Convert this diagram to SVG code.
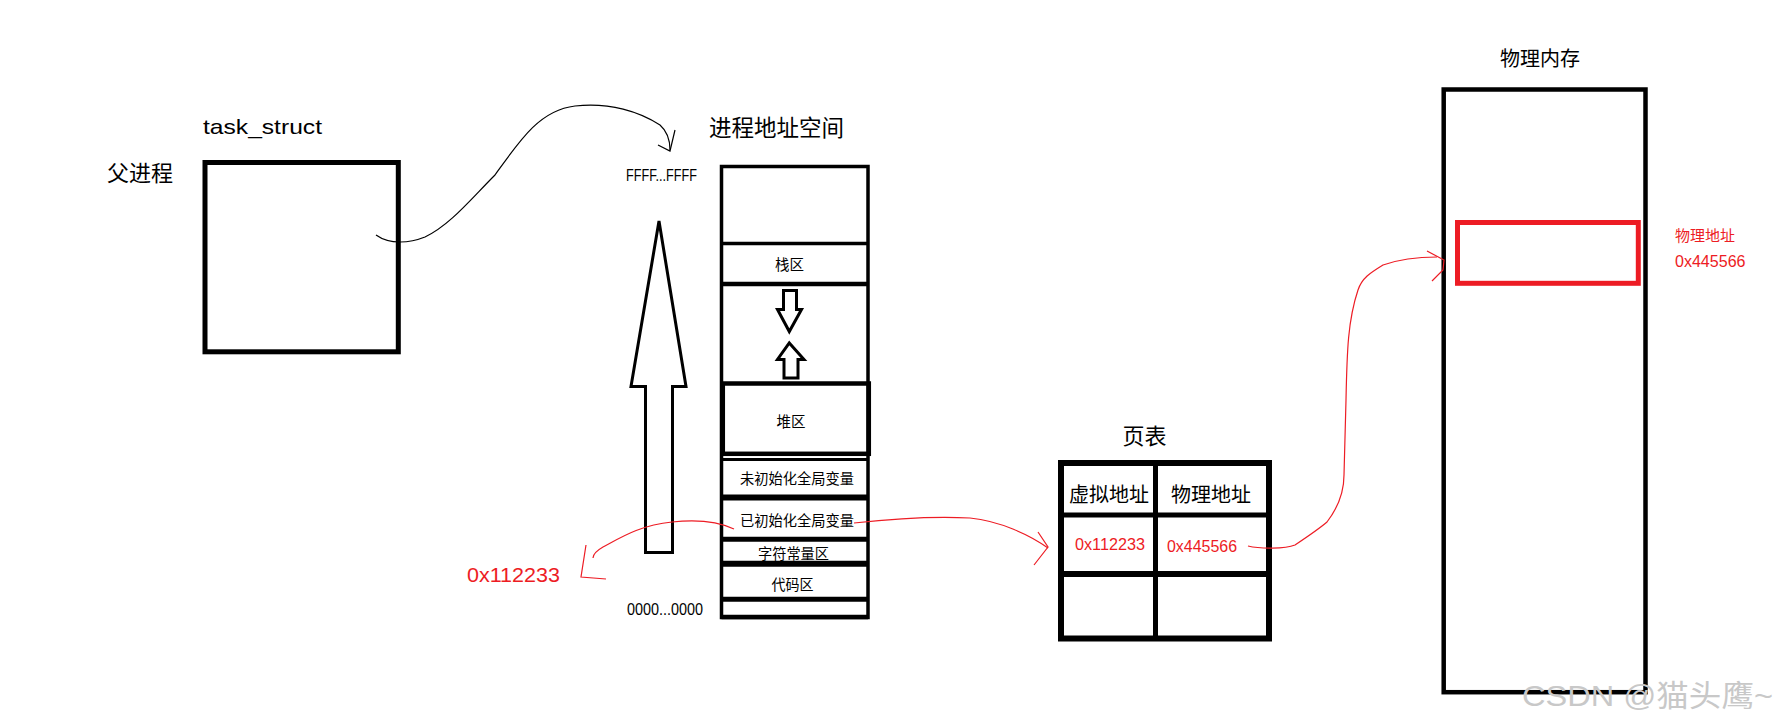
<svg xmlns="http://www.w3.org/2000/svg" width="1779" height="725" viewBox="0 0 1779 725">
<style>
text{font-family:"Liberation Sans","Noto Sans CJK SC",sans-serif;fill:#000}
.box{fill:none;stroke:#000}
.red{fill:#ED1C24}
.rl{fill:none;stroke:#ED1C24;stroke-width:1.2}
.bl{fill:none;stroke:#000;stroke-width:1.2}
.arr{fill:#fff;stroke:#000;stroke-width:3;stroke-linejoin:miter}
.seg{font-size:14.5px}
</style>
<rect width="1779" height="725" fill="#fff"/>

<g id="parent">
<text x="107" y="181" style="font-size:22px">父进程</text>
<text x="203" y="134" style="font-size:21px" textLength="119" lengthAdjust="spacingAndGlyphs">task_struct</text>
<rect class="box" x="205" y="162.5" width="193.3" height="189.3" stroke-width="5"/>
</g>

<g id="addrspace">
<text x="709" y="136" style="font-size:22.5px">进程地址空间</text>
<text x="626" y="180.5" style="font-size:16px" textLength="71" lengthAdjust="spacingAndGlyphs">FFFF...FFFF</text>
<text x="627" y="614.5" style="font-size:16px" textLength="76" lengthAdjust="spacingAndGlyphs">0000...0000</text>
<polygon class="arr" points="659,221 686,386.5 672.5,386.5 672.5,552.5 645.5,552.5 645.5,386.5 631,386.5"/>
<g id="column">
<rect class="box" x="721.5" y="166.5" width="146.5" height="451" stroke-width="3.5"/>
<line x1="721.5" y1="243.5" x2="868" y2="243.5" stroke="#000" stroke-width="3.5"/>
<line x1="721.5" y1="284" x2="868" y2="284" stroke="#000" stroke-width="4.5"/>
<rect class="box" x="722.8" y="383.5" width="146" height="70.3" stroke-width="4.5"/>
<line x1="721.5" y1="459.5" x2="868" y2="459.5" stroke="#000" stroke-width="3"/>
<line x1="721.5" y1="497.5" x2="868" y2="497.5" stroke="#000" stroke-width="6"/>
<line x1="721.5" y1="539.2" x2="868" y2="539.2" stroke="#000" stroke-width="5"/>
<line x1="721.5" y1="563.7" x2="868" y2="563.7" stroke="#000" stroke-width="6"/>
<line x1="721.5" y1="599.2" x2="868" y2="599.2" stroke="#000" stroke-width="5"/>
<line x1="721.5" y1="617" x2="868" y2="617" stroke="#000" stroke-width="4.5"/>
</g>
<text class="seg" x="775" y="270">栈区</text>
<polygon class="arr" points="783.5,290.5 796.5,290.5 796.5,309.5 801.5,309.5 789.3,331.5 777.5,309.5 783.5,309.5"/>
<polygon class="arr" points="789.3,343 804,359.5 798,359.5 798,378 784,378 784,359.5 777.5,359.5"/>
<text class="seg" x="776.5" y="427">堆区</text>
<text class="seg" x="740" y="484" textLength="114" lengthAdjust="spacingAndGlyphs">未初始化全局变量</text>
<text class="seg" x="740" y="525.5" textLength="114" lengthAdjust="spacingAndGlyphs">已初始化全局变量</text>
<text class="seg" x="758" y="559" textLength="71" lengthAdjust="spacingAndGlyphs">字符常量区</text>
<text class="seg" x="771.5" y="590" textLength="42" lengthAdjust="spacingAndGlyphs">代码区</text>
</g>

<g id="virt-label">
<text class="red" x="467" y="582" style="font-size:21px" textLength="93" lengthAdjust="spacingAndGlyphs">0x112233</text>
</g>

<g id="pagetable">
<text x="1122.5" y="444" style="font-size:22px">页表</text>
<rect class="box" x="1061" y="463" width="208" height="175.5" stroke-width="6"/>
<line x1="1155.5" y1="463" x2="1155.5" y2="638.5" stroke="#000" stroke-width="5"/>
<line x1="1061" y1="515" x2="1269" y2="515" stroke="#000" stroke-width="5"/>
<line x1="1061" y1="574" x2="1269" y2="574" stroke="#000" stroke-width="6"/>
<text x="1069" y="502" style="font-size:20px">虚拟地址</text>
<text x="1171" y="502" style="font-size:20px">物理地址</text>
<text class="red" x="1075" y="550" style="font-size:16px" textLength="70" lengthAdjust="spacingAndGlyphs">0x112233</text>
<text class="red" x="1167" y="551.5" style="font-size:16px" textLength="70" lengthAdjust="spacingAndGlyphs">0x445566</text>
</g>

<g id="physmem">
<text x="1500" y="66" style="font-size:20px">物理内存</text>
<rect class="box" x="1443.7" y="89.5" width="201.8" height="602.7" stroke-width="4.5"/>
<rect x="1457.5" y="222.5" width="180.8" height="60.8" fill="none" stroke="#ED1C24" stroke-width="5"/>
<text class="red" x="1675" y="241" style="font-size:15px">物理地址</text>
<text class="red" x="1675" y="266.5" style="font-size:16px" textLength="70.5" lengthAdjust="spacingAndGlyphs">0x445566</text>
</g>

<g id="connectors">
<path class="bl" d="M376,235 C390,245 410,243 425,237 C450,225 470,200 495,175 C520,140 540,110 575,106 C610,102 640,112 660,125 C668,132 670,140 670,150"/>
<path class="bl" d="M675,130 L670,151 L658,145"/>
<path class="rl" d="M734,529 C715,520 690,520 672,522 C640,525 620,538 603,547 C596,551 593,555 593,558"/>
<path class="rl" d="M586,545 L581,577 L606,579"/>
<path class="rl" d="M854,523 C890,519 930,516 970,518 C1000,521 1030,535 1048,548"/>
<path class="rl" d="M1038,532 L1048,547 L1034,565"/>
<path class="rl" d="M1248,546 C1260,549 1285,549 1295,545 C1310,535 1320,528 1327,522 C1340,505 1344,490 1344,475 L1346,400 C1347,350 1348,320 1358,290 C1362,278 1370,273 1383,265 C1400,259 1420,257 1437,257"/>
<path class="rl" d="M1427,251 L1444,260 L1443,270 L1432,281"/>
</g>

<text x="1522" y="706" style="font-size:30px;fill:#c8c8c8" textLength="251" lengthAdjust="spacingAndGlyphs">CSDN @猫头鹰~</text>
</svg>
